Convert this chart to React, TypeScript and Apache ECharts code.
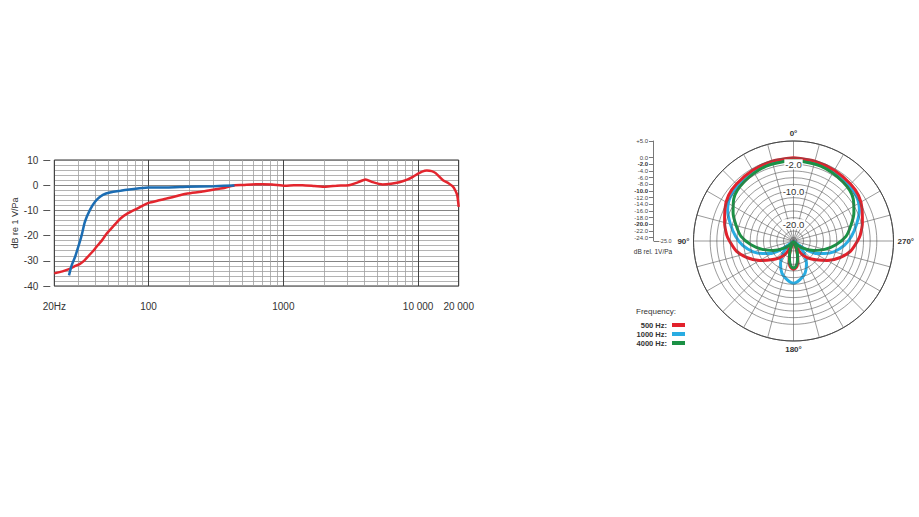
import React, { useEffect, useRef } from 'react';
import * as echarts from 'echarts';

// ---------- Frequency response (left chart) ----------
const redResponse: number[][] = [
  [20, -35], [23, -34.2], [26, -33.2], [28, -32.3], [31, -31.2], [33.5, -29.8], [36, -28],
  [39, -26], [41, -24.5], [45, -22], [49, -19.2], [55, -16.2], [62, -13.2], [70, -11.2],
  [83, -9.2], [100, -7], [120, -6], [136, -5.3], [165, -4.2], [194, -3.3], [246, -2.6],
  [308, -1.7], [370, -1], [437, 0], [500, 0.1], [583, 0.3], [700, 0.4], [824, 0.3],
  [1034, -0.2], [1200, 0], [1387, 0], [1700, -0.3], [2058, -0.6], [2500, -0.2], [3060, 0],
  [3600, 1.2], [4080, 2.3], [4600, 1.2], [5450, 0.3], [6300, 0.6], [7260, 1.2], [8300, 2.2],
  [9200, 3.4], [10000, 4.6], [10700, 5.4], [11600, 5.8], [12600, 5.6], [13500, 4.8],
  [15300, 2], [16900, 0.7], [18000, -0.4], [18800, -1.9], [19500, -4], [20000, -8.6],
];
const blueResponse: number[][] = [
  [25.7, -35.8], [26.9, -31.8], [28.5, -28.5], [30.1, -24.5], [31.9, -19.9], [33.7, -14.6],
  [36.7, -9.9], [40.1, -6.6], [43.7, -4.6], [48.4, -3.3], [54.8, -2.6], [62, -2.2],
  [72, -1.7], [83, -1.3], [100, -0.9], [137, -0.9], [194, -0.6], [306, -0.4], [434, -0.1],
];
const xGridValues = [
  20, 30, 40, 50, 60, 70, 80, 90, 100, 200, 300, 400, 500, 600, 700, 800, 900,
  1000, 2000, 3000, 4000, 5000, 6000, 7000, 8000, 9000, 10000, 20000,
];
const xTickValues = [20, 100, 1000, 10000, 20000];
const xTickLabels = ['20Hz', '100', '1000', '10 000', '20 000'];
const yName = 'dB re 1 V/Pa';

// ---------- Polar pattern (right chart) ----------
const angles500 = [0, 15, 30, 45, 55, 65, 75, 85, 90, 100, 110, 120, 130, 140, 148, 154, 158, 162, 166, 172, 180];
const db500 = [0, -0.2, -0.5, -0.8, -1.2, -2.3, -3.6, -4.9, -5.8, -7.6, -10.3, -13.3, -16.2, -18.4, -20.3, -23, -24.8, -22, -19.6, -17.4, -16.5];
const angles1000 = [0, 20, 40, 55, 65, 75, 85, 95, 105, 112, 118, 124, 128, 131, 135, 140, 150, 160, 170, 180];
const db1000 = [-0.6, -0.8, -1.3, -1.9, -3.2, -5.4, -7.5, -9.7, -12.5, -15, -17, -20, -23, -24.8, -22, -20, -17.2, -14.8, -13.3, -12.3];
const angles4000 = [0, 20, 40, 55, 65, 75, 85, 95, 105, 115, 125, 135, 145, 152, 158, 163, 168, 174, 180];
const db4000 = [-0.8, -1.1, -1.9, -3.1, -5, -7.2, -9.2, -12.2, -15.3, -18.3, -21, -23, -24.3, -24.9, -23, -21, -19.2, -17.5, -16.9];
const polarCircles = [-24, -22, -20, -18, -16, -14, -12, -10, -8, -6, -4, -2, 0, 5];
const polarRadiusLabels = [-20, -10, -2];
const polarAngleLabels = [0, 90, 180, 270];
const scaleTicks = [5, 0, -2, -4, -6, -8, -10, -12, -14, -16, -18, -20, -22, -24];
const scaleBold = [-2, -10, -20];
const legendNames = ['500 Hz', '1000 Hz', '4000 Hz'];

const FONT = '"Liberation Sans", Arial, sans-serif';

const mirror = (angles: number[], db: number[]) => {
  const front = angles.map((a, i) => [db[i], a]);
  const back = angles
    .slice(0, -1)
    .map((a, i) => [db[i], 360 - a])
    .reverse();
  return [...front, ...back];
};

const fmt1 = (v: number) => {
  const r = Math.round(v * 10) / 10;
  if (r === 0) return '0.0';
  return (r > 0 ? '+' : '') + r.toFixed(1);
};

export default function App() {
  const ref = useRef<HTMLDivElement>(null);

  useEffect(() => {
    if (!ref.current) return;
    const chart = echarts.init(ref.current, null, { renderer: 'svg' });

    const option: any = {
      animation: false,
      backgroundColor: '#ffffff',
      textStyle: { fontFamily: FONT },
      title: {
        text: 'Frequency:',
        left: 636,
        top: 307,
        padding: 0,
        textStyle: { fontSize: 8, fontWeight: 'normal', color: '#333', fontFamily: FONT },
      },
      legend: {
        data: legendNames,
        orient: 'vertical',
        right: 234,
        top: 321,
        align: 'right',
        icon: 'rect',
        itemWidth: 13,
        itemHeight: 4,
        itemGap: 1,
        padding: 0,
        selectedMode: false,
        formatter: '{name}:',
        textStyle: { fontSize: 7.5, fontWeight: 'bold', color: '#333', fontFamily: FONT, padding: [0, 0, 0, 0] },
      },
      grid: [
        {
          left: 54.3, top: 160, width: 404.4, height: 126,
          show: true, borderColor: '#333', borderWidth: 1, backgroundColor: 'transparent',
          outerBoundsMode: 'none',
        },
        { left: 653, top: 141, width: 1, height: 100, outerBoundsMode: 'none' },
      ],
      xAxis: [
        {
          type: 'log', logBase: 10, min: 20, max: 20000, gridIndex: 0,
          axisLine: { show: false },
          axisTick: { show: false, customValues: xGridValues },
          axisLabel: { show: false },
          splitLine: { show: true, lineStyle: { color: '#a0a0a0', width: 0.8 } },
        },
        {
          type: 'log', logBase: 10, min: 20, max: 20000, gridIndex: 0, position: 'bottom', offset: 3,
          axisLine: { show: false },
          axisTick: { show: true, customValues: xTickValues, length: 8, lineStyle: { color: '#555', width: 1 } },
          axisLabel: {
            customValues: xTickValues,
            margin: 12,
            fontSize: 10,
            color: '#333',
            fontFamily: FONT,
            formatter: (v: number) => {
              let best = 0;
              xTickValues.forEach((t, i) => {
                if (Math.abs(Math.log10(t) - Math.log10(v)) < Math.abs(Math.log10(xTickValues[best]) - Math.log10(v))) best = i;
              });
              return xTickLabels[best];
            },
          },
          splitLine: { show: true, lineStyle: { color: '#444', width: 1 } },
        },
        { type: 'value', gridIndex: 1, show: false, min: 0, max: 1 },
      ],
      yAxis: [
        {
          type: 'value', min: -40, max: 10, interval: 2, gridIndex: 0,
          axisLine: { show: false }, axisTick: { show: false }, axisLabel: { show: false },
          splitLine: { show: true, lineStyle: { color: '#a0a0a0', width: 0.8 } },
        },
        {
          type: 'value', min: -40, max: 10, interval: 10, gridIndex: 0, position: 'left', offset: 4,
          axisLine: { show: false },
          axisTick: { show: true, length: 7, lineStyle: { color: '#555' } },
          axisLabel: { margin: 12, fontSize: 10, color: '#333', fontFamily: FONT },
          splitLine: { show: true, lineStyle: { color: '#808080', width: 0.9 } },
          name: yName,
          nameLocation: 'middle',
          nameGap: 21,
          nameRotate: 90,
          nameTextStyle: { fontSize: 9, color: '#333', fontFamily: FONT },
        },
        {
          type: 'value', min: -25, max: 5, gridIndex: 1, position: 'left',
          axisLine: { show: true, lineStyle: { color: '#555', width: 0.8 } },
          axisTick: { show: true, customValues: scaleTicks, length: 4, lineStyle: { color: '#555', width: 0.8 } },
          axisLabel: {
            customValues: scaleTicks,
            margin: 5,
            fontSize: 6,
            color: '#444',
            fontFamily: FONT,
            formatter: (v: number) => {
              const s = fmt1(v);
              return scaleBold.includes(Math.round(v)) ? `{b|${s}}` : s;
            },
            rich: { b: { fontWeight: 'bold', fontSize: 6, color: '#333', fontFamily: FONT } },
          },
          splitLine: { show: false },
          name: 'dB rel. 1V/Pa',
          nameLocation: 'start',
          nameGap: 7,
          nameTextStyle: { fontSize: 6.5, color: '#333', align: 'center', fontFamily: FONT },
        },
        {
          type: 'value', min: -25, max: 5, gridIndex: 1, position: 'right',
          axisLine: { show: false },
          axisTick: { show: true, customValues: [-25], length: 5, lineStyle: { color: '#555', width: 0.8 } },
          axisLabel: {
            customValues: [-25], margin: 5, fontSize: 5.5, color: '#444', fontFamily: FONT,
            formatter: (v: number) => fmt1(v),
          },
          splitLine: { show: false },
        },
      ],
      polar: { center: [793.5, 241], radius: 100 },
      angleAxis: {
        type: 'value', min: 0, max: 360, interval: 15, startAngle: 90, clockwise: false,
        axisLine: { show: true, lineStyle: { color: '#333', width: 1 } },
        axisTick: { show: false },
        axisLabel: {
          customValues: polarAngleLabels,
          margin: 4,
          fontSize: 8,
          fontWeight: 'bold',
          color: '#333',
          fontFamily: FONT,
          formatter: (v: number) => `${Math.round(v)}°`,
        },
        splitLine: { show: true, lineStyle: { color: '#555', width: 0.6 } },
      },
      radiusAxis: {
        type: 'value', min: -25, max: 5,
        axisLine: { show: false },
        axisTick: { show: false, customValues: polarCircles },
        axisLabel: {
          customValues: polarRadiusLabels,
          margin: 0,
          align: 'center',
          verticalAlign: 'middle',
          fontSize: 9.5,
          color: '#333',
          fontFamily: FONT,
          backgroundColor: '#fff',
          padding: [0, 1],
          formatter: (v: number) => fmt1(v),
        },
        splitLine: { show: true, lineStyle: { color: '#555', width: 0.6 } },
        z: 5,
      },
      series: [
        {
          name: 'Response red', type: 'line', xAxisIndex: 0, yAxisIndex: 0,
          data: redResponse, showSymbol: false, symbol: 'none', smooth: 0.2,
          lineStyle: { color: '#e3262e', width: 2.5 }, itemStyle: { color: '#e3262e' },
        },
        {
          name: 'Response blue', type: 'line', xAxisIndex: 0, yAxisIndex: 0,
          data: blueResponse, showSymbol: false, symbol: 'none', smooth: 0.2,
          lineStyle: { color: '#1c6db3', width: 2.5 }, itemStyle: { color: '#1c6db3' },
        },
        {
          name: '1000 Hz', type: 'line', coordinateSystem: 'polar',
          data: mirror(angles1000, db1000), showSymbol: false, symbol: 'none', smooth: 0.3,
          lineStyle: { color: '#29ace2', width: 3 }, itemStyle: { color: '#29ace2' },
        },
        {
          name: '500 Hz', type: 'line', coordinateSystem: 'polar',
          data: mirror(angles500, db500), showSymbol: false, symbol: 'none', smooth: 0.3,
          lineStyle: { color: '#e2222c', width: 3 }, itemStyle: { color: '#e2222c' },
        },
        {
          name: '4000 Hz', type: 'line', coordinateSystem: 'polar',
          data: mirror(angles4000, db4000), showSymbol: false, symbol: 'none', smooth: 0.3,
          lineStyle: { color: '#1b9145', width: 3 }, itemStyle: { color: '#1b9145' },
        },
      ],
    };

    chart.setOption(option);
    return () => chart.dispose();
  }, []);

  return (
    <div
      ref={ref}
      style={{ position: 'fixed', left: 0, top: 0, width: 919, height: 517, background: '#fff' }}
    />
  );
}
